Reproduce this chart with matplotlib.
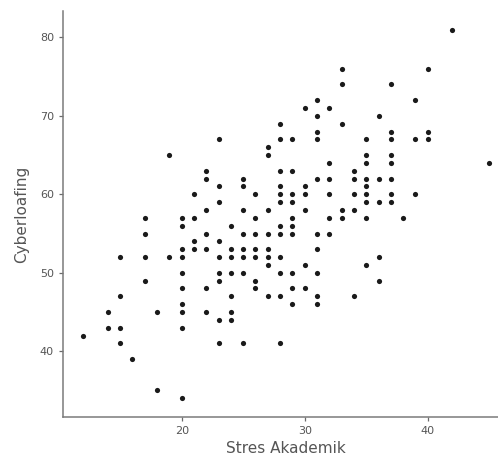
import matplotlib
matplotlib.use("Agg")
import matplotlib.pyplot as plt

# Stres Akademik (x) -> list of Cyberloafing (y) values
stres = [12, 14, 14, 15, 15, 15, 15, 16, 17, 17, 17, 17, 18, 18, 19, 19,
         20, 20, 20, 20, 20, 20, 20, 20, 20, 20,
         21, 21, 21, 21,
         22, 22, 22, 22, 22, 22, 22,
         23, 23, 23, 23, 23, 23, 23, 23, 23,
         24, 24, 24, 24, 24, 24, 24,
         25, 25, 25, 25, 25, 25, 25, 25,
         26, 26, 26, 26, 26, 26, 26,
         27, 27, 27, 27, 27, 27, 27, 27,
         28, 28, 28, 28, 28, 28, 28, 28, 28, 28, 28, 28,
         29, 29, 29, 29, 29, 29, 29, 29, 29, 29,
         30, 30, 30, 30, 30, 30,
         31, 31, 31, 31, 31, 31, 31, 31, 31, 31,
         32, 32, 32, 32, 32, 32,
         33, 33, 33, 33, 33,
         34, 34, 34, 34, 34,
         35, 35, 35, 35, 35, 35, 35, 35, 35,
         36, 36, 36, 36, 36,
         37, 37, 37, 37, 37, 37, 37, 37,
         38, 39, 39, 39, 40, 40, 40, 42, 45]
cyber = [42, 45, 43, 52, 47, 43, 41, 39, 57, 55, 52, 49, 45, 35, 65, 52,
         57, 56, 53, 52, 50, 48, 46, 45, 43, 34,
         60, 57, 54, 53,
         63, 62, 58, 55, 53, 48, 45,
         67, 61, 59, 54, 52, 50, 49, 44, 41,
         56, 53, 52, 50, 47, 45, 44,
         62, 61, 58, 55, 53, 52, 50, 41,
         60, 57, 55, 53, 52, 49, 48,
         66, 65, 58, 55, 53, 52, 51, 47,
         69, 67, 63, 61, 60, 59, 56, 55, 52, 50, 47, 41,
         67, 63, 60, 59, 57, 56, 55, 50, 48, 46,
         71, 61, 60, 58, 51, 48,
         72, 70, 68, 67, 62, 55, 53, 50, 47, 46,
         71, 64, 62, 60, 57, 55,
         76, 74, 69, 58, 57,
         63, 62, 60, 58, 47,
         67, 65, 64, 62, 61, 60, 59, 57, 51,
         70, 62, 59, 52, 49,
         74, 68, 67, 65, 64, 62, 60, 59,
         57, 72, 67, 60, 76, 68, 67, 81, 64]
x_ticks = [20, 30, 40]
y_ticks = [40, 50, 60, 70, 80]

fig = plt.figure(figsize=(4.98, 4.62), dpi=100)
ax = fig.add_axes([0.1265, 0.098, 0.8966, 0.878])
ax.scatter(stres, cyber, s=14, color="#1a1a1a", linewidths=0)
ax.set_xlim(10.35, 46.65)
ax.set_ylim(31.65, 83.35)
ax.set_xticks(x_ticks)
ax.set_yticks(y_ticks)
for s in ["top", "right"]:
    ax.spines[s].set_visible(False)
for s in ["left", "bottom"]:
    ax.spines[s].set_color("#7a7a7a")
    ax.spines[s].set_linewidth(1.1)
ax.tick_params(axis="both", colors="#6a6a6a", labelcolor="#555555",
               labelsize=8, length=3, width=0.9)
ax.set_xlabel("Stres Akademik", fontsize=11, color="#555555", labelpad=4)
ax.set_ylabel("Cyberloafing", fontsize=11, color="#555555", labelpad=8)
fig.savefig("out.png", dpi=100)
